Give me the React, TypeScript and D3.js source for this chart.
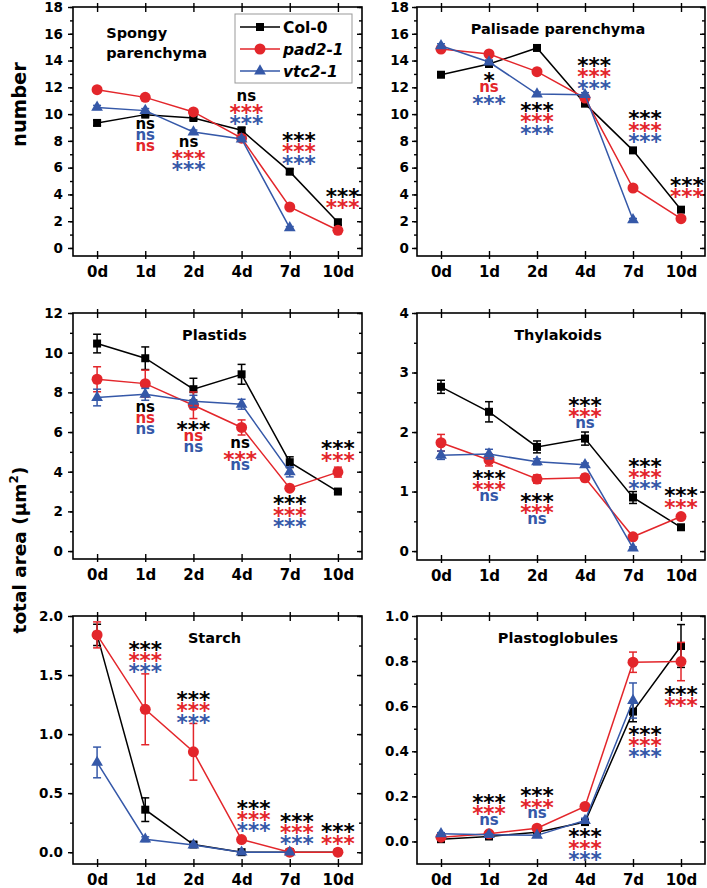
import { useEffect, useRef } from "react";
import * as d3 from "d3";

const days = ["0d", "1d", "2d", "4d", "7d", "10d"];
const genotypes = ["Col-0", "pad2-1", "vtc2-1"];
const colors = ["#000000", "#e3262b", "#3558a8"];
const symbols = [d3.symbolSquare, d3.symbolCircle, d3.symbolTriangle];
const symbolSizes = [64, 95, 60];

// Spongy parenchyma (number)
const spongyCol = [9.34, 9.96, 9.71, 8.79, 5.7, 1.92];
const spongyColErr = [0.2, 0.15, 0.15, 0.2, 0.2, 0.2];
const spongyPad = [11.82, 11.25, 10.16, 8.2, 3.06, 1.32];
const spongyPadErr = [0.15, 0.15, 0.15, 0.15, 0.15, 0.15];
const spongyVtc = [10.5, 10.26, 8.66, 8.14, 1.5, null];
const spongyVtcErr = [0.15, 0.15, 0.15, 0.15, 0.1, null];

// Palisade parenchyma (number)
const palisadeCol = [12.94, 13.74, 14.94, 10.78, 7.29, 2.86];
const palisadeColErr = [0.15, 0.15, 0.15, 0.15, 0.15, 0.15];
const palisadePad = [14.86, 14.49, 13.17, 11.2, 4.48, 2.19];
const palisadePadErr = [0.15, 0.15, 0.15, 0.15, 0.15, 0.15];
const palisadeVtc = [15.1, 13.89, 11.5, 11.45, 2.1, null];
const palisadeVtcErr = [0.15, 0.15, 0.15, 0.15, 0.1, null];

// Plastids (total area)
const plastidsCol = [10.46, 9.72, 8.16, 8.91, 4.48, 3.0];
const plastidsColErr = [0.47, 0.57, 0.55, 0.5, 0.27, 0.05];
const plastidsPad = [8.66, 8.44, 7.35, 6.23, 3.17, 3.98];
const plastidsPadErr = [0.63, 0.68, 0.67, 0.38, 0.12, 0.25];
const plastidsVtc = [7.74, 7.9, 7.55, 7.4, 3.99, null];
const plastidsVtcErr = [0.42, 0.3, 0.3, 0.25, 0.25, null];

// Thylakoids (total area)
const thylakoidsCol = [2.76, 2.34, 1.75, 1.89, 0.9, 0.4];
const thylakoidsColErr = [0.11, 0.17, 0.1, 0.11, 0.1, 0.03];
const thylakoidsPad = [1.82, 1.53, 1.21, 1.23, 0.24, 0.58];
const thylakoidsPadErr = [0.14, 0.1, 0.07, 0.06, 0.03, 0.04];
const thylakoidsVtc = [1.61, 1.63, 1.5, 1.45, 0.05, null];
const thylakoidsVtcErr = [0.07, 0.08, 0.05, 0.03, 0.02, null];

// Starch (total area)
const starchCol = [1.84, 0.36, 0.065, 0, 0, 0];
const starchColErr = [0.09, 0.1, 0.02, 0.005, 0, 0];
const starchPad = [1.84, 1.21, 0.85, 0.107, 0, 0];
const starchPadErr = [0.11, 0.3, 0.24, 0.01, 0, 0];
const starchVtc = [0.76, 0.11, 0.06, 0, 0, null];
const starchVtcErr = [0.13, 0.02, 0.01, 0.005, 0, null];

// Plastoglobules (total area)
const globCol = [0.01, 0.022, 0.041, 0.086, 0.576, 0.867];
const globColErr = [0.003, 0.004, 0.005, 0.008, 0.045, 0.095];
const globPad = [0.019, 0.034, 0.059, 0.155, 0.795, 0.798];
const globPadErr = [0.004, 0.005, 0.006, 0.01, 0.045, 0.085];
const globVtc = [0.034, 0.03, 0.027, 0.093, 0.625, null];
const globVtcErr = [0.005, 0.004, 0.004, 0.01, 0.078, null];

// significance marks: day position, value of first row, rows of [text, genotype]
const spongyNotes = [
  { day: 1, at: 9.21, rows: [["ns", 0], ["ns", 2], ["ns", 1]] },
  { day: 1.9, at: 7.84, rows: [["ns", 0], ["***", 1], ["***", 2]] },
  { day: 3.1, at: 11.28, rows: [["ns", 0], ["***", 1], ["***", 2]] },
  { day: 4.19, at: 8.34, rows: [["***", 0], ["***", 1], ["***", 2]] },
  { day: 5.1, at: 4.16, rows: [["***", 0], ["***", 1]] },
];
const palisadeNotes = [
  { day: 1, at: 12.82, rows: [["*", 0], ["ns", 1], ["***", 2]] },
  { day: 2, at: 10.58, rows: [["***", 0], ["***", 1], ["***", 2]] },
  { day: 3.19, at: 13.94, rows: [["***", 0], ["***", 1], ["***", 2]] },
  { day: 4.25, at: 9.96, rows: [["***", 0], ["***", 1], ["***", 2]] },
  { day: 5.12, at: 4.98, rows: [["***", 0], ["***", 1]] },
];
const plastidsNotes = [
  { day: 1, at: 7.23, rows: [["ns", 0], ["ns", 1], ["ns", 2]] },
  { day: 2, at: 6.34, rows: [["***", 0], ["ns", 1], ["ns", 2]] },
  { day: 2.97, at: 5.42, rows: [["ns", 0], ["***", 1], ["ns", 2]] },
  { day: 4, at: 2.6, rows: [["***", 0], ["***", 1], ["***", 2]] },
  { day: 5, at: 5.37, rows: [["***", 0], ["***", 1]] },
];
const thylakoidsNotes = [
  { day: 1, at: 1.29, rows: [["***", 0], ["***", 1], ["ns", 2]] },
  { day: 2, at: 0.91, rows: [["***", 0], ["***", 1], ["ns", 2]] },
  { day: 3, at: 2.52, rows: [["***", 0], ["***", 1], ["ns", 2]] },
  { day: 4.25, at: 1.5, rows: [["***", 0], ["***", 1], ["***", 2]] },
  { day: 5, at: 1.0, rows: [["***", 0], ["***", 1]] },
];
const starchNotes = [
  { day: 1, at: 1.755, rows: [["***", 0], ["***", 1], ["***", 2]] },
  { day: 2, at: 1.33, rows: [["***", 0], ["***", 1], ["***", 2]] },
  { day: 3.25, at: 0.41, rows: [["***", 0], ["***", 1], ["***", 2]] },
  { day: 4.15, at: 0.3, rows: [["***", 0], ["***", 1], ["***", 2]] },
  { day: 5, at: 0.21, rows: [["***", 0], ["***", 1]] },
];
const globNotes = [
  { day: 1, at: 0.192, rows: [["***", 0], ["***", 1], ["ns", 2]] },
  { day: 2, at: 0.222, rows: [["***", 0], ["***", 1], ["ns", 2]] },
  { day: 3, at: 0.04, rows: [["***", 0], ["***", 1], ["***", 2]] },
  { day: 4.25, at: 0.495, rows: [["***", 0], ["***", 1], ["***", 2]] },
  { day: 5, at: 0.672, rows: [["***", 0], ["***", 1]] },
];

const panels = [
  {
    title: ["Spongy", "parenchyma"], left: 73, right: 362, top: 7, bottom: 256,
    domain: [-0.6, 18], major: 2, minor: 1, fmt: d3.format("d"),
    series: [[spongyCol, spongyColErr], [spongyPad, spongyPadErr], [spongyVtc, spongyVtcErr]],
    notes: spongyNotes,
  },
  {
    title: ["Palisade parenchyma"], left: 417, right: 705, top: 7, bottom: 256,
    domain: [-0.6, 18], major: 2, minor: 1, fmt: d3.format("d"),
    series: [[palisadeCol, palisadeColErr], [palisadePad, palisadePadErr], [palisadeVtc, palisadeVtcErr]],
    notes: palisadeNotes,
  },
  {
    title: ["Plastids"], left: 73, right: 362, top: 313, bottom: 559,
    domain: [-0.4, 12], major: 2, minor: 1, fmt: d3.format("d"),
    series: [[plastidsCol, plastidsColErr], [plastidsPad, plastidsPadErr], [plastidsVtc, plastidsVtcErr]],
    notes: plastidsNotes,
  },
  {
    title: ["Thylakoids"], left: 417, right: 705, top: 313, bottom: 560,
    domain: [-0.15, 4], major: 1, minor: 0.5, fmt: d3.format("d"),
    series: [[thylakoidsCol, thylakoidsColErr], [thylakoidsPad, thylakoidsPadErr], [thylakoidsVtc, thylakoidsVtcErr]],
    notes: thylakoidsNotes,
  },
  {
    title: ["Starch"], left: 73, right: 362, top: 616, bottom: 864,
    domain: [-0.1, 2], major: 0.5, minor: 0.25, fmt: d3.format(".1f"),
    series: [[starchCol, starchColErr], [starchPad, starchPadErr], [starchVtc, starchVtcErr]],
    notes: starchNotes,
  },
  {
    title: ["Plastoglobules"], left: 417, right: 705, top: 616, bottom: 864,
    domain: [-0.1, 1], major: 0.2, minor: 0.1, fmt: d3.format(".1f"),
    series: [[globCol, globColErr], [globPad, globPadErr], [globVtc, globVtcErr]],
    notes: globNotes,
  },
];

const FONT = "'DejaVu Sans', sans-serif";

function drawPanel(svg, p, idx) {
  const x = d3.scaleLinear().domain([-0.5, 5.5]).range([p.left, p.right]);
  const y = d3.scaleLinear().domain(p.domain).range([p.bottom, p.top]);
  const g = svg.append("g");
  const ymax = p.domain[1] + 1e-9;
  const majors = d3.range(0, ymax, p.major);
  const minors = d3.range(0, ymax, p.minor);
  const leftCol = idx % 2 === 0;

  // left axis, ticks outward
  const la = g.append("g").attr("transform", `translate(${p.left},0)`)
    .call(d3.axisLeft(y).tickValues(minors).tickSize(3).tickFormat(() => ""));
  la.select(".domain").remove();
  const lb = g.append("g").attr("transform", `translate(${p.left},0)`)
    .call(d3.axisLeft(y).tickValues(majors).tickSize(5).tickPadding(leftCol ? 5 : 3).tickFormat(p.fmt));
  lb.select(".domain").remove();
  lb.selectAll("text").attr("font-size", 13.5).attr("font-weight", "bold").attr("font-family", FONT).attr("fill", "#000");

  // right axis, ticks inward
  const ra = g.append("g").attr("transform", `translate(${p.right},0)`)
    .call(d3.axisRight(y).tickValues(minors).tickSize(-3).tickFormat(() => ""));
  ra.select(".domain").remove();
  const rb = g.append("g").attr("transform", `translate(${p.right},0)`)
    .call(d3.axisRight(y).tickValues(majors).tickSize(-5).tickFormat(() => ""));
  rb.select(".domain").remove();

  // bottom and top ticks cross the frame
  const ba = g.append("g").attr("transform", `translate(0,${p.bottom})`)
    .call(d3.axisBottom(x).tickValues(d3.range(days.length)).tickSize(3).tickPadding(7.6).tickFormat((i) => days[i]));
  ba.select(".domain").remove();
  ba.selectAll("text").attr("font-size", 15).attr("font-weight", "bold").attr("font-family", FONT).attr("fill", "#000");
  const bi = g.append("g").attr("transform", `translate(0,${p.bottom})`)
    .call(d3.axisTop(x).tickValues(d3.range(days.length)).tickSize(5).tickFormat(() => ""));
  bi.select(".domain").remove();
  const ta = g.append("g").attr("transform", `translate(0,${p.top})`)
    .call(d3.axisTop(x).tickValues(d3.range(days.length)).tickSize(4).tickFormat(() => ""));
  ta.select(".domain").remove();
  const tb = g.append("g").attr("transform", `translate(0,${p.top})`)
    .call(d3.axisBottom(x).tickValues(d3.range(days.length)).tickSize(5).tickFormat(() => ""));
  tb.select(".domain").remove();
  g.selectAll(".tick line").attr("stroke", "#000").attr("stroke-width", 1.4);

  g.append("rect")
    .attr("x", p.left).attr("y", p.top)
    .attr("width", p.right - p.left).attr("height", p.bottom - p.top)
    .attr("fill", "none").attr("stroke", "#000").attr("stroke-width", 1.6);

  // title
  if (p.title.length > 1) {
    p.title.forEach((t, k) => {
      g.append("text").attr("x", x(0.19)).attr("y", p.top + 31 + k * 20)
        .attr("font-size", 14.5).attr("font-weight", "bold").attr("font-family", FONT).text(t);
    });
  } else {
    g.append("text").attr("x", (p.left + p.right) / 2 - 3).attr("y", p.top + 26.5)
      .attr("text-anchor", "middle")
      .attr("font-size", 14.5).attr("font-weight", "bold").attr("font-family", FONT).text(p.title[0]);
  }

  const line = d3.line()
    .defined((d) => d != null)
    .x((d, i) => x(i))
    .y((d) => y(d));

  p.series.forEach(([vals, errs], s) => {
    const c = colors[s];
    g.append("path").datum(vals).attr("d", line)
      .attr("fill", "none").attr("stroke", c).attr("stroke-width", 1.5);
    const pts = vals.map((v, i) => ({ v, e: errs[i], i })).filter((d) => d.v != null);
    const eb = g.append("g").attr("stroke", c).attr("stroke-width", 1.5);
    pts.filter((d) => d.e > 0).forEach((d) => {
      const y0 = y(d.v - d.e), y1 = y(d.v + d.e), cx = x(d.i);
      eb.append("line").attr("x1", cx).attr("x2", cx).attr("y1", y0).attr("y2", y1);
      eb.append("line").attr("x1", cx - 4).attr("x2", cx + 4).attr("y1", y0).attr("y2", y0);
      eb.append("line").attr("x1", cx - 4).attr("x2", cx + 4).attr("y1", y1).attr("y2", y1);
    });
    g.append("g").selectAll("path").data(pts).join("path")
      .attr("transform", (d) => `translate(${x(d.i)},${y(d.v)})`)
      .attr("d", d3.symbol(symbols[s], symbolSizes[s]))
      .attr("fill", c);
  });

  // significance marks
  p.notes.forEach((n) => {
    n.rows.forEach(([t, s], k) => {
      const star = t.includes("*");
      const fs = star ? 21.5 : 15;
      const yc = y(n.at) + k * 11.3;
      g.append("text")
        .attr("x", x(n.day))
        .attr("y", yc + (star ? 0.55 * fs : 0.28 * fs))
        .attr("text-anchor", "middle")
        .attr("font-size", fs).attr("font-weight", "bold").attr("font-family", FONT)
        .attr("fill", colors[s])
        .text(t);
    });
  });

  return { x, y };
}

function App() {
  const ref = useRef(null);

  useEffect(() => {
    const svg = d3.select(ref.current);
    svg.selectAll("*").remove();

    svg.append("rect").attr("width", 707).attr("height", 888).attr("fill", "#fff");

    panels.forEach((p, i) => drawPanel(svg, p, i));

    // legend in the first panel
    const p = panels[0];
    const lg = svg.append("g").attr("transform", `translate(${p.left + 162},${p.top + 7})`);
    lg.append("rect").attr("width", 117).attr("height", 69)
      .attr("fill", "#fff").attr("stroke", "#999").attr("stroke-width", 1);
    genotypes.forEach((name, s) => {
      const ry = 13 + s * 22;
      lg.append("line").attr("x1", 5).attr("x2", 45).attr("y1", ry).attr("y2", ry)
        .attr("stroke", colors[s]).attr("stroke-width", 1.5);
      lg.append("path").attr("transform", `translate(25,${ry})`)
        .attr("d", d3.symbol(symbols[s], symbolSizes[s])).attr("fill", colors[s]);
      lg.append("text").attr("x", 48).attr("y", ry + 5.5)
        .attr("font-size", 15.5).attr("font-weight", "bold").attr("font-family", FONT)
        .attr("font-style", s === 0 ? "normal" : "italic")
        .text(name);
    });

    // axis titles
    svg.append("text")
      .attr("transform", "translate(26,104.5) rotate(-90)")
      .attr("text-anchor", "middle")
      .attr("font-size", 19.5).attr("font-weight", "bold").attr("font-family", FONT)
      .text("number");
    const t2 = svg.append("text")
      .attr("transform", "translate(26,550) rotate(-90)")
      .attr("text-anchor", "middle")
      .attr("font-size", 18.5).attr("font-weight", "bold").attr("font-family", FONT);
    t2.append("tspan").text("total area (µm");
    t2.append("tspan").attr("font-size", 12).attr("dy", -8).text("2");
    t2.append("tspan").attr("dy", 8).text(")");
  }, []);

  return (
    <svg
      ref={ref}
      width={707}
      height={888}
      style={{ position: "absolute", left: 0, top: 0 }}
    />
  );
}

export default App;
